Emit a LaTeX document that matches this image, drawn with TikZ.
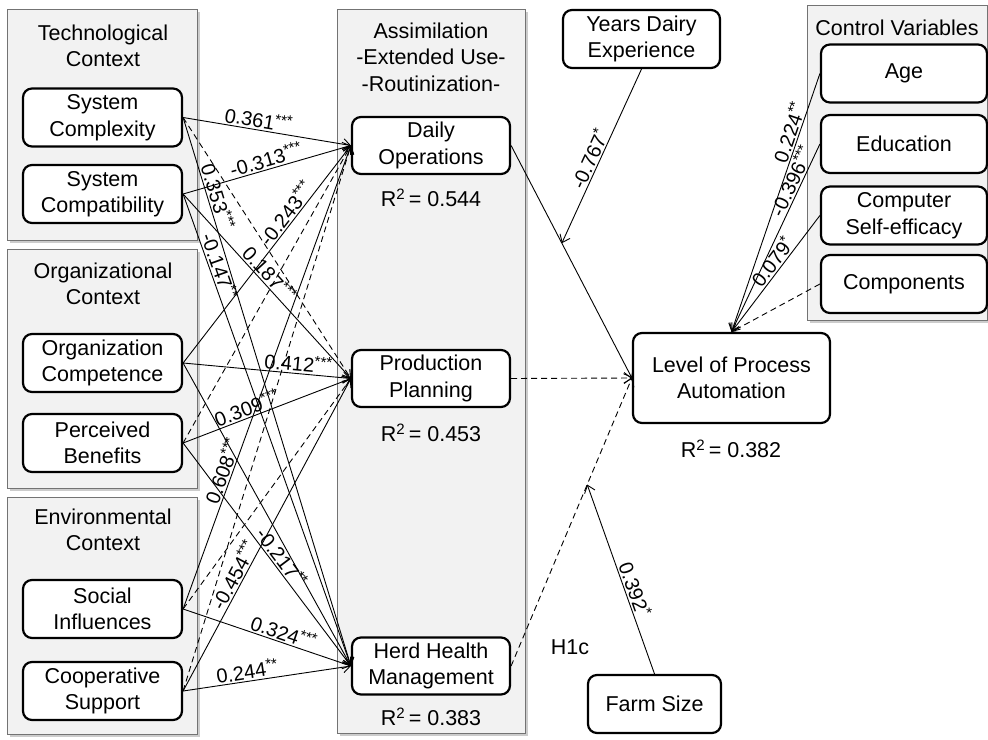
\documentclass[tikz,border=0pt]{standalone}
\usepackage{fontspec}
\setmainfont{Liberation Sans}
\usetikzlibrary{arrows.meta,shadows}
\newcommand\stars[1]{\raisebox{0.32em}{\fontsize{15}{15}\selectfont #1}}
\newcommand\sqr{\textsuperscript{2}}
\begin{document}
\begin{tikzpicture}[x=1pt,y=-1pt,
  grp/.style={draw=black!55, fill=black!5, line width=0.8pt, anchor=north west, inner sep=0pt,
    drop shadow={shadow xshift=2.5pt, shadow yshift=-2.5pt, fill=black!40, opacity=0.5}},
  box/.style={draw=black, fill=white, line width=2.2pt, rounded corners=9pt, align=center,
    inner sep=0pt, font=\fontsize{21.5}{26.5}\selectfont},
  ttl/.style={align=center, font=\fontsize{21.5}{26.5}\selectfont, inner sep=0pt},
  conn/.style={line width=0.9pt, -{Straight Barb[length=7pt,width=11pt]}},
  dsh/.style={dash pattern=on 6pt off 4pt},
  lbl/.style={sloped, above, inner sep=1.5pt, font=\fontsize{20}{22}\selectfont}
]
\useasboundingbox (0,0) rectangle (988,739);

% groups
\node[grp, minimum width=190pt, minimum height=231pt] (gtech) at (7,9) {};
\node[grp, minimum width=190pt, minimum height=239pt] (gorg) at (7,249) {};
\node[grp, minimum width=190pt, minimum height=237pt] (genv) at (7,497) {};
\node[grp, minimum width=188pt, minimum height=724pt] (gasm) at (337,9) {};
\node[grp, minimum width=180pt, minimum height=315pt] (gctl) at (807,5) {};

% group titles
\node[ttl] (ttech) at (103,46) {Technological\\Context};
\node[ttl] (torg) at (103,284) {Organizational\\Context};
\node[ttl] (tenv) at (103,530) {Environmental\\Context};
\node[ttl] (tasm) at (431,57) {Assimilation\\-Extended Use-\\-Routinization-};
\node[ttl] (tctl) at (897,28) {Control Variables};

% left boxes
\tikzset{lbox/.style={box, minimum width=159pt, minimum height=58pt}}
\node[lbox] (SC) at (102.5,117.5) {System\\Complexity};
\node[lbox] (SCo) at (102.5,194) {System\\Compatibility};
\node[lbox] (OC) at (102.5,363) {Organization\\Competence};
\node[lbox] (PB) at (102.5,443) {Perceived\\Benefits};
\node[lbox] (SI) at (102.5,609) {Social\\Influences};
\node[lbox] (CS) at (102.5,691) {Cooperative\\Support};

% middle boxes
\tikzset{mbox/.style={box, minimum width=158pt, minimum height=57pt}}
\node[mbox] (DO) at (431,145.5) {Daily\\Operations};
\node[mbox] (PP) at (431,378.5) {Production\\Planning};
\node[mbox] (HH) at (431,666) {Herd Health\\Management};
\node[ttl] (r1) at (431,198) {R\sqr\,= 0.544};
\node[ttl] (r2) at (431,433) {R\sqr\,= 0.453};
\node[ttl] (r3) at (431,717) {R\sqr\,= 0.383};

% right side
\node[box, minimum width=197pt, minimum height=90pt] (LPA) at (731.5,378) {Level of Process\\Automation};
\node[ttl] (r4) at (731,449) {R\sqr\,= 0.382};
\node[box, minimum width=157pt, minimum height=58pt] (YDE) at (641.5,39) {Years Dairy\\Experience};
\node[box, minimum width=133pt, minimum height=58pt] (FS) at (654.5,704) {Farm Size};
\node[ttl] (h1c) at (570,647) {H1c};

\tikzset{cbox/.style={box, minimum width=166pt, minimum height=58pt}}
\node[cbox] (Age) at (904,73.5) {Age};
\node[cbox] (Edu) at (904,144) {Education};
\node[cbox] (CSE) at (904,215.5) {Computer\\Self-efficacy};
\node[cbox] (Comp) at (904,284) {Components};

% left -> middle
\draw[conn] (SC.east) -- node[lbl,pos=0.44]{0.361\stars{***}} (DO.west);
\draw[conn,dsh] (SC.east) -- (PP.west);
\draw[conn] (SC.east) -- node[lbl,pos=0.15]{0.353\stars{***}} (HH.west);
\draw[conn] (SCo.east) -- node[lbl,pos=0.51]{-0.313\stars{***}} (DO.west);
\draw[conn] (SCo.east) -- node[lbl,pos=0.47]{0.187\stars{***}} (PP.west);
\draw[conn] (SCo.east) -- node[lbl,pos=0.16]{-0.147\stars{**}} (HH.west);
\draw[conn] (OC.east) -- node[lbl,pos=0.66]{-0.243\stars{***}} (DO.west);
\draw[conn] (OC.east) -- node[lbl,pos=0.68]{0.412\stars{***}} (PP.west);
\draw[conn] (OC.east) -- (HH.west);
\draw[conn,dsh] (PB.east) -- (DO.west);
\draw[conn] (PB.east) -- node[lbl,pos=0.4]{0.309\stars{***}} (PP.west);
\draw[conn] (PB.east) -- node[lbl,pos=0.54]{-0.217\stars{**}} (HH.west);
\draw[conn] (SI.east) -- node[lbl,pos=0.29]{0.608\stars{***}} (DO.west);
\draw[conn,dsh] (SI.east) -- (PP.west);
\draw[conn] (SI.east) -- node[lbl,pos=0.58]{0.324\stars{***}} (HH.west);
\draw[conn,dsh] (CS.east) -- (DO.west);
\draw[conn] (CS.east) -- node[lbl,pos=0.355]{-0.454\stars{***}} (PP.west);
\draw[conn] (CS.east) -- node[lbl,pos=0.39]{0.244\stars{**}} (HH.west);

% middle -> LPA
\draw[conn] (DO.east) -- coordinate[pos=0.42] (m1) (LPA.west);
\draw[conn,dsh] (PP.east) -- (LPA.west);
\draw[conn,dsh] (HH.east) -- coordinate[pos=0.63] (m2) (LPA.west);

% moderators
\draw[conn] (YDE.south) -- node[lbl,pos=0.54]{-0.767\stars{*}} (m1);
\draw[conn] (FS.north) -- node[lbl,pos=0.43]{0.392\stars{*}} (m2);

% controls
\draw[conn] (Age.west) -- node[lbl,pos=0.24]{0.224\stars{**}} (LPA.north);
\draw[conn] (Edu.west) -- node[lbl,pos=0.22]{-0.396\stars{***}} (LPA.north);
\draw[conn] (CSE.west) -- node[lbl,pos=0.45]{0.079\stars{*}} (LPA.north);
\draw[conn,dsh] (Comp.west) -- (LPA.north);
\end{tikzpicture}
\end{document}
